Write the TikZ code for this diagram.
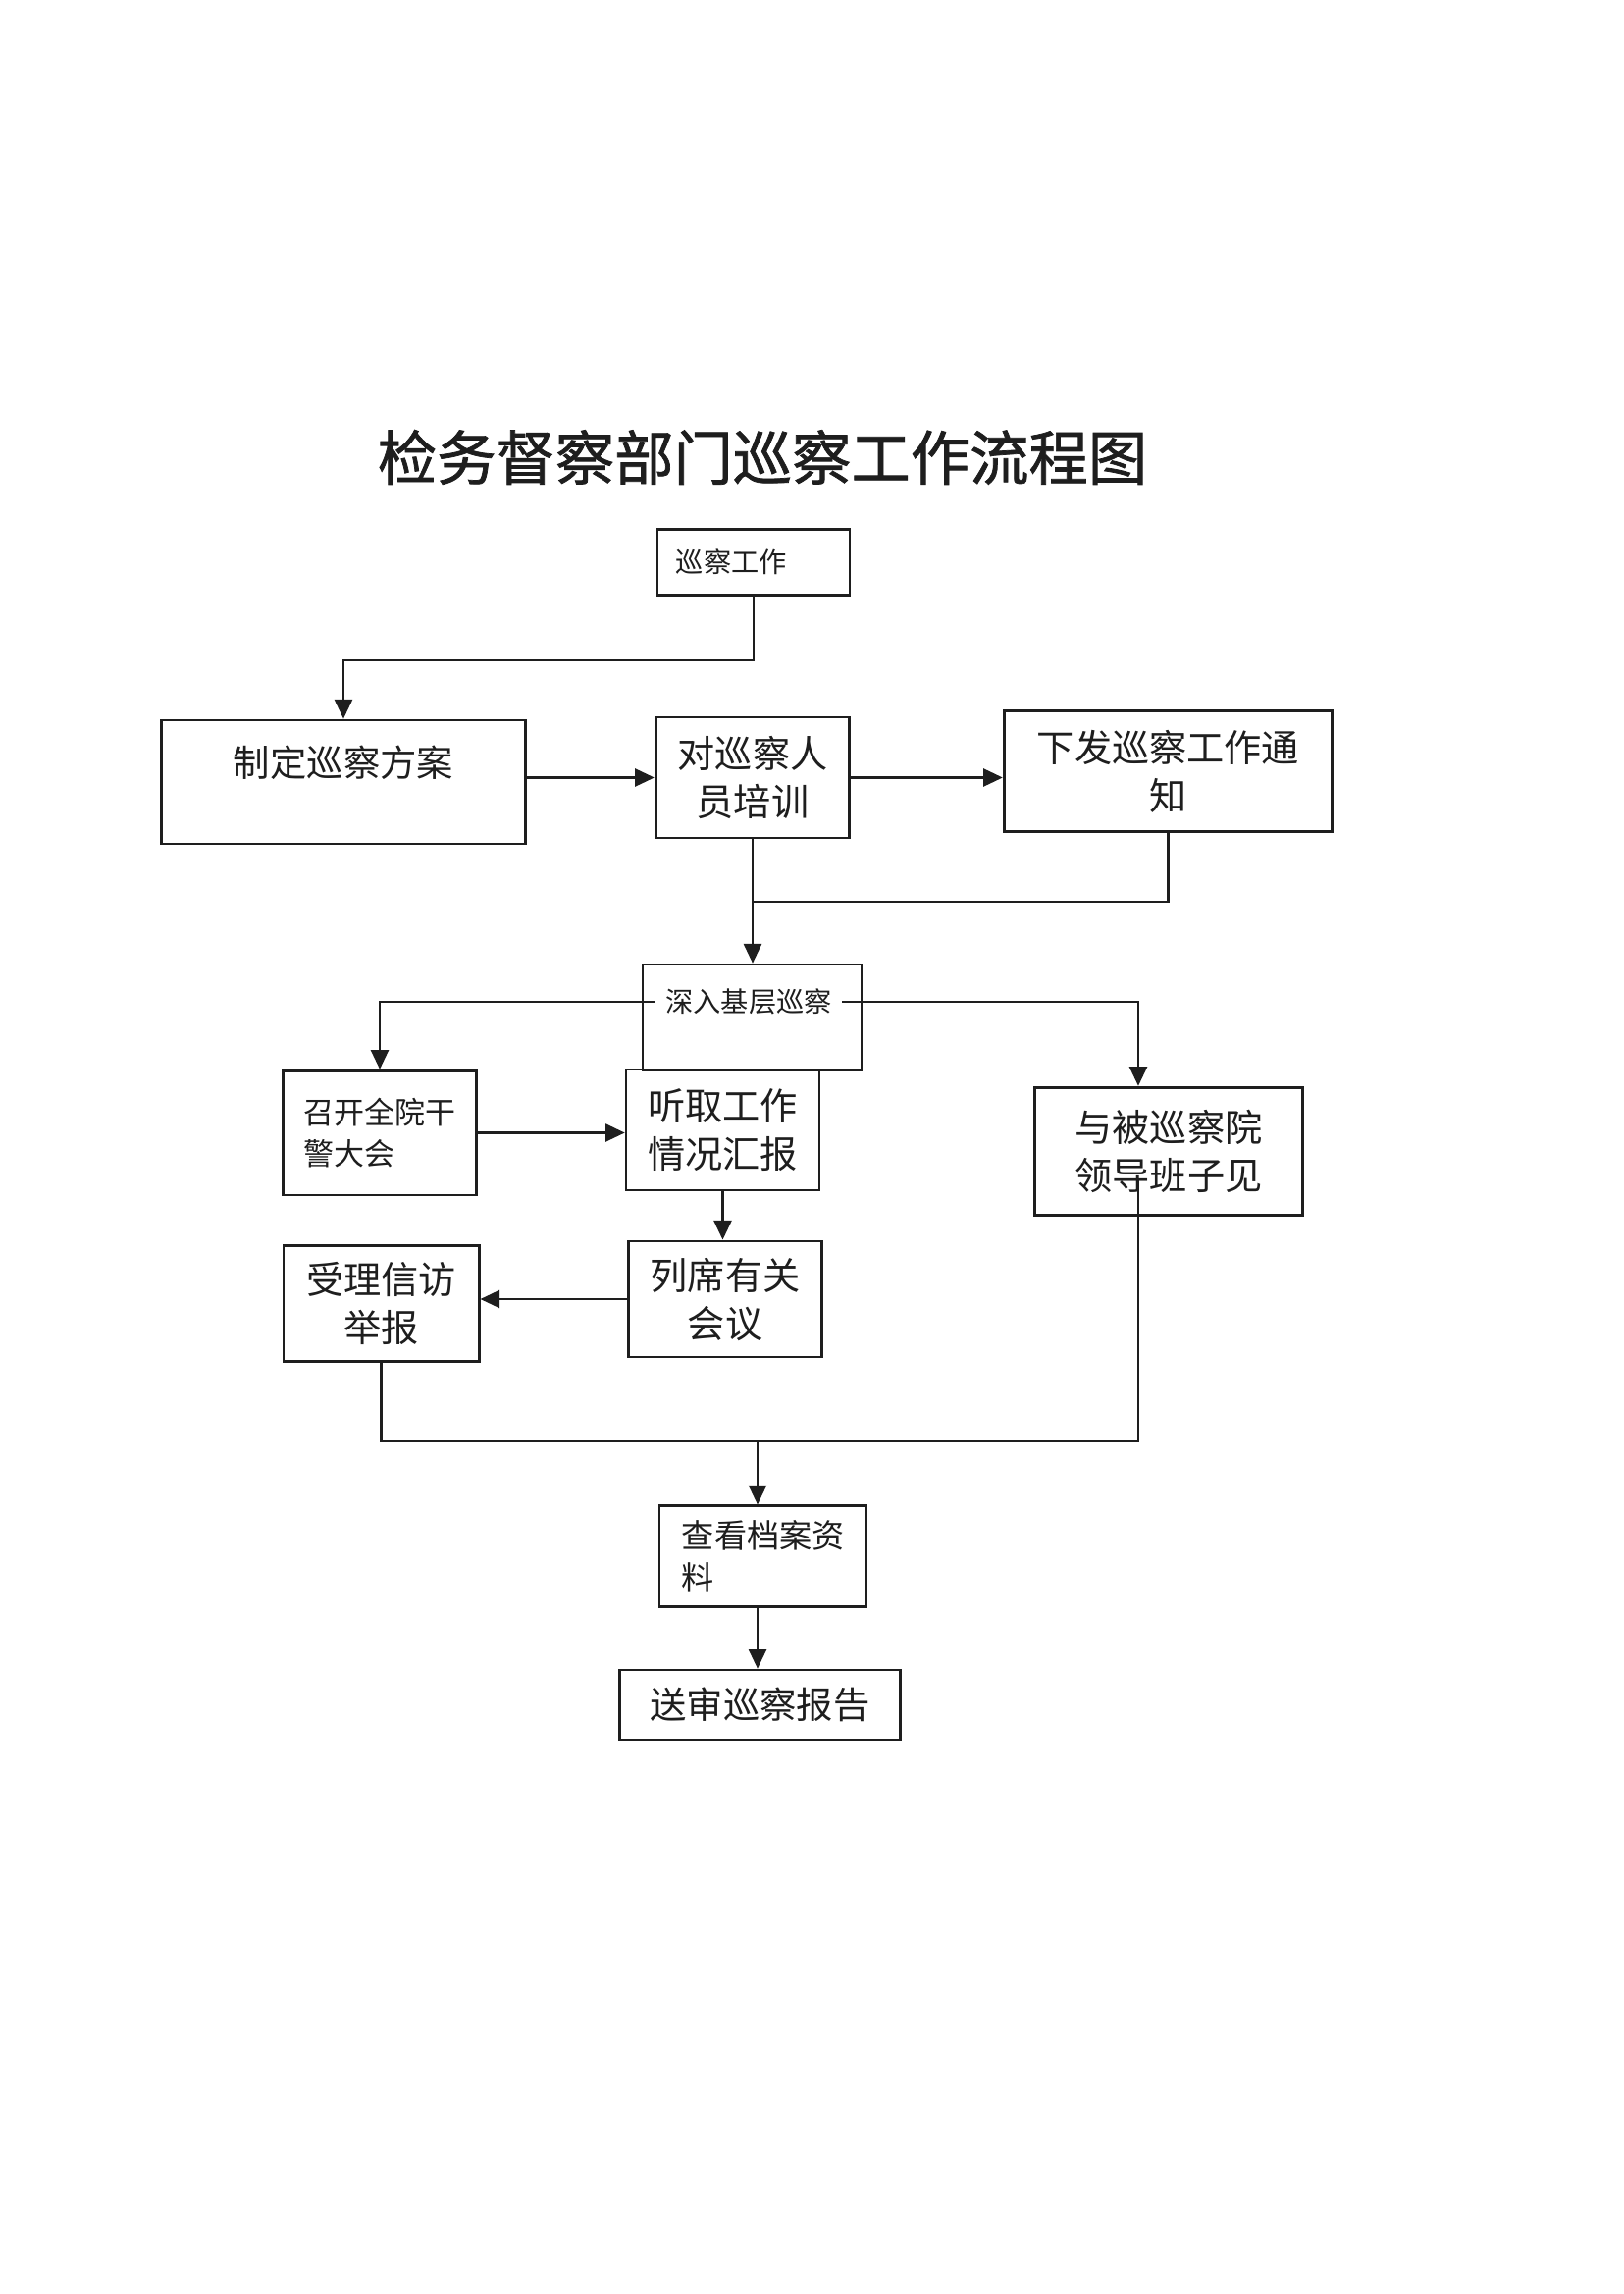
\documentclass[tikz,border=0pt]{standalone}
\usepackage{fontspec}
\setmainfont{Noto Sans CJK SC}
\newfontfamily\titlefont{Noto Sans CJK SC}[FakeBold=1.2]
\usepackage{tikz}
\usetikzlibrary{arrows.meta,positioning}
\definecolor{fcink}{HTML}{1E1E1E}
\newcommand{\fsz}[2]{\fontsize{#1}{#2}\selectfont}
\newcommand{\lift}[2]{\raisebox{#1}[\height][\depth]{#2}}
\tikzset{
  fcbox/.style     = {draw=fcink, line width=1pt, inner sep=0pt, align=center,
                      text=fcink},
  smallbox/.style  = {fcbox, font=\fsz{10.2pt}{13pt}},
  midbox/.style    = {fcbox, font=\fsz{11.2pt}{15.5pt}},
  bigbox/.style    = {fcbox, font=\fsz{13.8pt}{17.7pt}},
  lefttxt/.style   = {align=left, text width=#1},
  bare/.style      = {inner sep=0pt, text=fcink},
  %
  link/.style      = {draw=fcink, line width=0.8pt},
  flow/.style      = {link, -{Triangle[length=2.5mm,width=2.3mm]}},
}

\begin{document}
\begin{tikzpicture}[x=0.127mm, y=-0.127mm]

  \path[fill=white, use as bounding box] (0,0) rectangle (1654,2338);

  \node[bare, font=\titlefont\fsz{21.8pt}{24pt}] (title) at (777,466)
    {检务督察部门巡察工作流程图};

  \node[smallbox, lefttxt=20.1mm, inner xsep=2.4mm, minimum height=8.6mm]
    (work) at (768,573) {巡察工作};

  \node[bigbox, font=\fsz{13.5pt}{17pt}, minimum width=47.2mm, minimum height=16mm]
    (plan) at (350,797) {\lift{2.5mm}{制定巡察方案}};
  \node[bigbox, minimum width=25.1mm, minimum height=15.6mm] (train) at (767,792.5)
    {对巡察人\\员培训};
  \node[bigbox, minimum width=42.5mm, minimum height=15.7mm] (notice) at (1190.5,786)
    {下发巡察工作通\\知};

  \node[fcbox, minimum width=28.3mm, minimum height=13.7mm] (deep) at (766.5,1037) {};
  \node[bare, font=\fsz{10.2pt}{13pt}, inner xsep=1.3mm] (deeptxt) at (763,1021)
    {深入基层巡察};

  \node[midbox, lefttxt=19.7mm, inner xsep=2.7mm, minimum height=16.1mm]
    (call) at (387,1154.5) {召开全院干\\警大会};
  \node[bigbox, minimum width=25mm, minimum height=15.6mm] (hear) at (736.5,1151.5)
    {听取工作\\情况汇报};
  \node[bigbox, minimum width=34.7mm, minimum height=16.6mm] (see) at (1191,1173.5)
    {与被巡察院\\领导班子见};

  \node[bigbox, minimum width=25.3mm, minimum height=14.9mm] (accept) at (388.5,1328.5)
    {受理信访\\举报};
  \node[bigbox, minimum width=25.1mm, minimum height=15mm] (attend) at (739,1324)
    {列席有关\\会议};

  \node[fcbox, font=\fsz{12pt}{15.5pt}, lefttxt=21mm, inner xsep=2.9mm,
    minimum height=13mm] (check) at (777.5,1586) {查看档案资\\料};
  \node[bigbox, font=\fsz{13.5pt}{17pt}, minimum width=36.4mm, minimum height=9mm]
    (report) at (774.5,1737.5) {送审巡察报告};

  % ---- connectors -------------------------------------------------------
  \coordinate (merge) at (768,919);
  \coordinate (seetail) at (1160,1203);
  \coordinate (join) at (772,1469);

  \draw[flow] (work.south) -- ++(0,65) -| (plan.north);
  \draw[flow] (train.west -| plan.east) -- (train.west);
  \draw[flow] (train.east) -- (train.east -| notice.west);
  \draw[link] (notice.south) |- (merge);
  \draw[flow] (train.south) -- (train.south |- deep.north);

  \draw[flow] (deeptxt.west) -| (call.north);
  \draw[flow] (deeptxt.east) -| (seetail |- see.north);
  \draw[flow] (call.east) -- (call.east -| hear.west);
  \draw[flow] (hear.south) -- (hear.south |- attend.north);
  \draw[flow] (attend.west) -- (attend.west -| accept.east);

  \draw[link] (accept.south) |- (join) -| (seetail);
  \draw[flow] (join) -- (join |- check.north);
  \draw[flow] (join |- check.south) -- (join |- report.north);

\end{tikzpicture}
\end{document}
